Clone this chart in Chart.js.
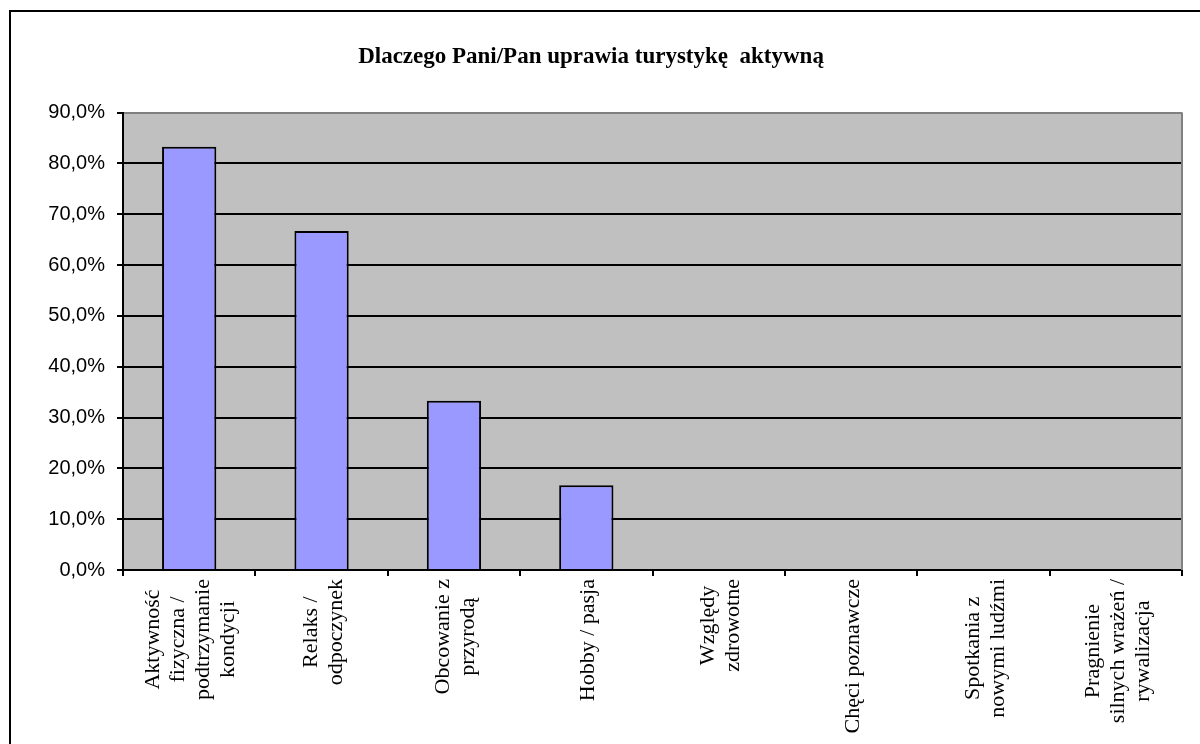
<!DOCTYPE html>
<html>
<head>
<meta charset="utf-8">
<script src="https://cdn.jsdelivr.net/npm/chart.js@4"></script>
<style>
  html, body { margin: 0; padding: 0; background: #fff; overflow: hidden; }
  .frame { position: absolute; left: 9px; top: 10px; width: 1400px; height: 1000px; border: 2px solid #000; }
  .wrap { position: absolute; left: 0; top: 0; width: 1200px; height: 744px; }
</style>
</head>
<body>
<div class="frame"></div>
<div class="wrap"><canvas id="myChart" width="1200" height="744"></canvas></div>
<script>
// Categories (multi-line labels, drawn rotated under the axis)
const categories = [
    ['Aktywność', 'fizyczna /', 'podtrzymanie', 'kondycji'],
    ['Relaks /', 'odpoczynek'],
    ['Obcowanie z', 'przyrodą'],
    ['Hobby / pasja'],
    ['Względy', 'zdrowotne'],
    ['Chęci poznawcze'],
    ['Spotkania z', 'nowymi ludźmi'],
    ['Pragnienie', 'silnych wrażeń /', 'rywalizacja']
];

// Share of answers, in percent
const percentValues = [83.3, 66.7, 33.3, 16.7, 0, 0, 0, 0];

// Y axis ticks
const yTickValues = [0, 10, 20, 30, 40, 50, 60, 70, 80, 90];
const yTickLabels = ['0,0%', '10,0%', '20,0%', '30,0%', '40,0%', '50,0%', '60,0%', '70,0%', '80,0%', '90,0%'];

const chartTitle = 'Dlaczego Pani/Pan uprawia turystykę  aktywną';

// gray plot background + gray right edge
const plotArea = {
    id: 'plotArea',
    beforeDraw(chart) {
        const { ctx, chartArea: a } = chart;
        ctx.save();
        ctx.fillStyle = '#C0C0C0';
        ctx.fillRect(a.left, a.top, a.right - a.left, a.bottom - a.top);
        ctx.restore();
    },
    afterDraw(chart) {
        const { ctx, chartArea: a } = chart;
        ctx.save();
        ctx.strokeStyle = '#808080';
        ctx.lineWidth = 2;
        ctx.beginPath();
        ctx.moveTo(a.right, a.top);
        ctx.lineTo(a.right, a.bottom);
        ctx.stroke();
        ctx.restore();
    }
};

// rotated, centred multi-line category labels
const rotatedLabels = {
    id: 'rotatedLabels',
    afterDraw(chart) {
        const { ctx } = chart;
        const xScale = chart.scales.x;
        const lineH = 25;
        ctx.save();
        ctx.font = '22px "Liberation Serif", "Times New Roman", serif';
        ctx.fillStyle = '#000';
        ctx.textAlign = 'center';
        ctx.textBaseline = 'middle';
        categories.forEach((lines, i) => {
            const x = xScale.getPixelForValue(i) + 2;
            const maxW = Math.max(...lines.map(l => ctx.measureText(l).width));
            const cy = chart.chartArea.bottom + 9 + maxW / 2;
            ctx.save();
            ctx.translate(x, cy);
            ctx.rotate(-Math.PI / 2);
            lines.forEach((line, k) => {
                ctx.fillText(line, 0, (k - (lines.length - 1) / 2) * lineH);
            });
            ctx.restore();
        });
        ctx.restore();
    }
};

const ctx = document.getElementById('myChart').getContext('2d');

new Chart(ctx, {
    type: 'bar',
    data: {
        labels: categories.map(c => c.join(' ')),
        datasets: [{
            data: percentValues,
            backgroundColor: '#9999FF',
            borderColor: '#000',
            borderWidth: 2,
            borderSkipped: 'bottom',
            barPercentage: 0.41,
            categoryPercentage: 1
        }]
    },
    options: {
        responsive: false,
        animation: false,
        layout: { padding: { top: 0, right: 18, bottom: 0, left: 0 } },
        plugins: {
            legend: { display: false },
            tooltip: { enabled: false },
            title: {
                display: true,
                text: chartTitle,
                color: '#000',
                font: { family: '"Liberation Serif", "Times New Roman", serif', size: 23, weight: 'bold' },
                padding: { top: 43, bottom: 42 }
            }
        },
        scales: {
            x: {
                ticks: { display: false },
                grid: {
                    offset: true,
                    drawOnChartArea: false,
                    drawTicks: true,
                    tickLength: 6,
                    color: '#000',
                    lineWidth: 2
                },
                border: { color: '#000', width: 2 },
                afterFit: scale => { scale.height = 174; }
            },
            y: {
                min: 0,
                max: 90,
                afterBuildTicks: scale => { scale.ticks = yTickValues.map(v => ({ value: v })); },
                ticks: {
                    color: '#000',
                    padding: 12,
                    font: { family: '"Liberation Sans", Arial, sans-serif', size: 20 },
                    callback: (value) => yTickLabels[yTickValues.indexOf(value)]
                },
                grid: {
                    color: c => (c.tick && c.tick.value === 90 ? '#808080' : '#000'),
                    tickColor: '#000',
                    lineWidth: 2,
                    tickLength: 6
                },
                border: { color: '#000', width: 2 },
                afterFit: scale => { scale.width = 123; }
            }
        }
    },
    plugins: [plotArea, rotatedLabels]
});
</script>
</body>
</html>
